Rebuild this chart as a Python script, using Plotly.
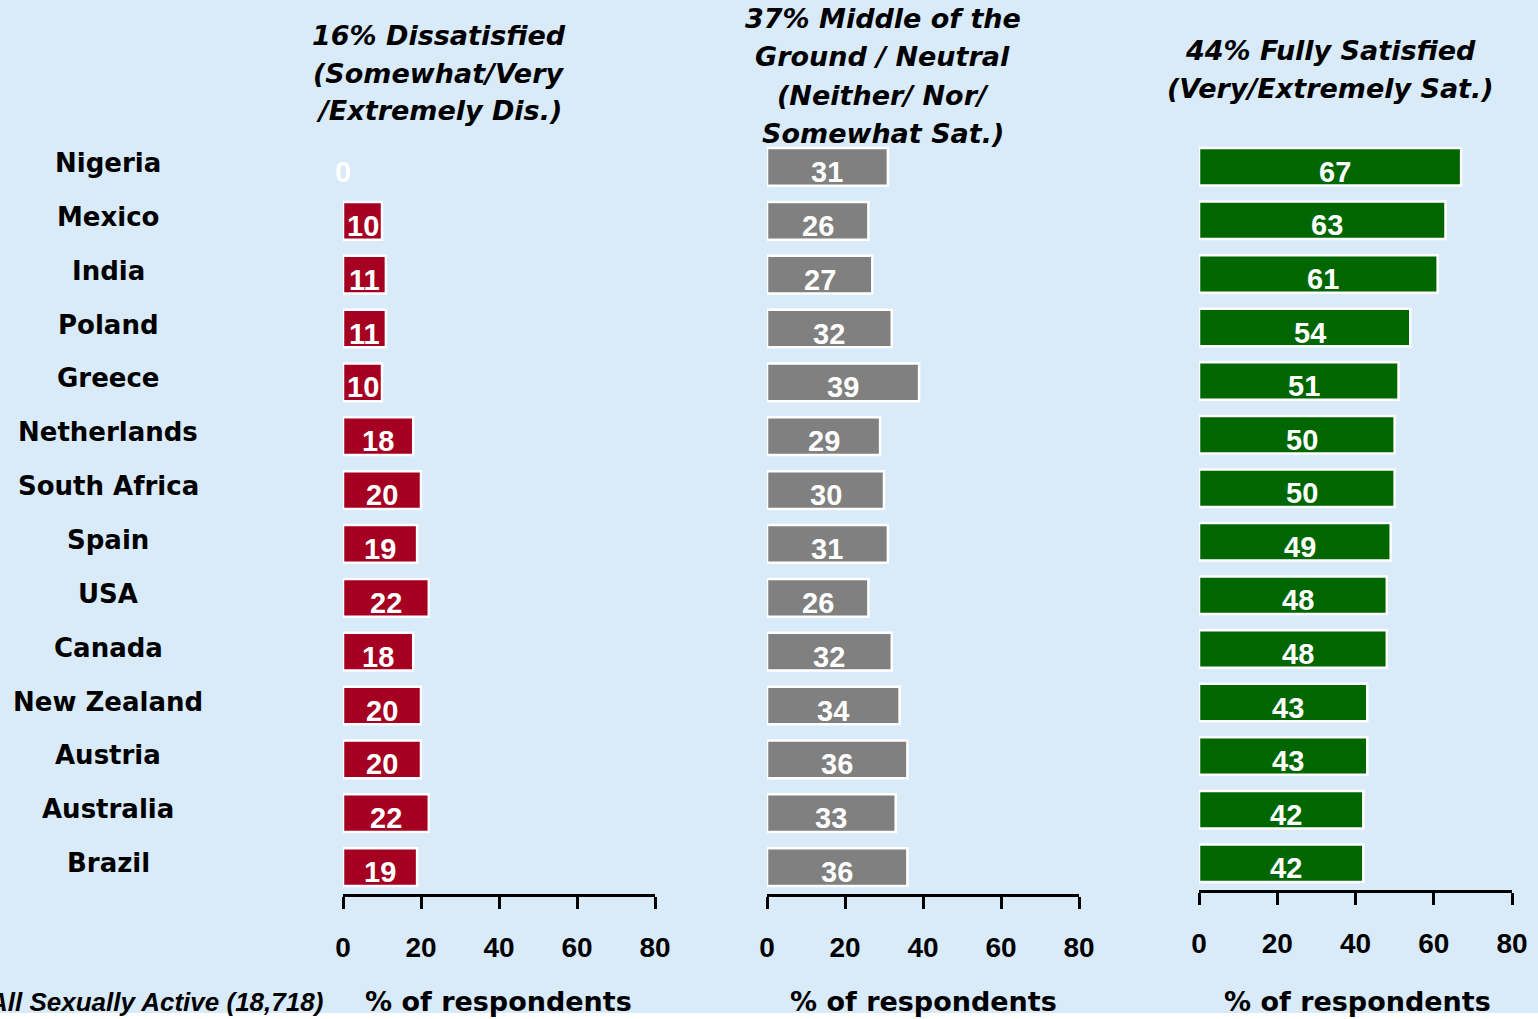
import plotly.graph_objects as go

countries = ["Nigeria", "Mexico", "India", "Poland", "Greece", "Netherlands", "South Africa",
             "Spain", "USA", "Canada", "New Zealand", "Austria", "Australia", "Brazil"]
dissatisfied = [0, 10, 11, 11, 10, 18, 20, 19, 22, 18, 20, 20, 22, 19]
neutral = [31, 26, 27, 32, 39, 29, 30, 31, 26, 32, 34, 36, 33, 36]
satisfied = [67, 63, 61, 54, 51, 50, 50, 49, 48, 48, 43, 43, 42, 42]

panel_titles = [
    ["16% Dissatisfied", "(Somewhat/Very", "/Extremely Dis.)"],
    ["37% Middle of the", "Ground / Neutral", "(Neither/ Nor/", "Somewhat Sat.)"],
    ["44% Fully Satisfied", "(Very/Extremely Sat.)"],
]
colors = ["#a50021", "#808080", "#006600"]
tick_vals = [0, 20, 40, 60, 80]
axis_title = "% of respondents"
base_note = "All Sexually Active (18,718)"

W, H = 1538, 1019
BG = "#d9eaf8"
NUMFONT = "Liberation Sans"
TXTFONT = "DejaVu Sans"

def px(x):
    return x / W

def py(y):
    return 1 - y / H

xdoms = [(343, 655), (767, 1079), (1199, 1512)]
ydoms = [(140, 894), (140, 894), (140, 890)]
label_xshift = [0, 0, 5]
series = [dissatisfied, neutral, satisfied]

fig = go.Figure()
annotations = []
for i, (vals, col) in enumerate(zip(series, colors)):
    xa = "x" if i == 0 else f"x{i+1}"
    ya = "y" if i == 0 else f"y{i+1}"
    fig.add_trace(go.Bar(
        x=vals, y=countries, orientation="h", xaxis=xa, yaxis=ya,
        marker=dict(color=col, line=dict(color="white", width=[0 if v == 0 else 2.5 for v in vals])),
        width=0.7, showlegend=False, hoverinfo="x+y",
    ))
    for c, v in zip(countries, vals):
        annotations.append(dict(
            x=v / 2, y=c, xref=xa, yref=ya, text=f"<b>{v}</b>", showarrow=False,
            font=dict(family=NUMFONT, size=29, color="white"), yshift=-5,
            xshift=label_xshift[i], xanchor="center", yanchor="middle",
        ))
    lay_x = "xaxis" if i == 0 else f"xaxis{i+1}"
    lay_y = "yaxis" if i == 0 else f"yaxis{i+1}"
    x0, x1 = xdoms[i]
    y0, y1 = ydoms[i]
    fig.update_layout({
        lay_x: dict(domain=[px(x0), px(x1)], range=[0, 80], anchor=ya,
                    tickvals=tick_vals, showline=True, linecolor="black", linewidth=2.5,
                    ticks="outside", ticklen=12, tickwidth=2.5, tickcolor="black",
                    showgrid=False, zeroline=False, ticklabelstandoff=15,
                    automargin=False,
                    tickfont=dict(family=NUMFONT, size=28, color="black", weight="bold")),
        lay_y: dict(domain=[py(y1), py(y0)], anchor=xa, autorange="reversed",
                    showticklabels=False, showgrid=False, zeroline=False, showline=False,
                    automargin=False,
                    categoryorder="array", categoryarray=countries),
    })

# country labels
for c in countries:
    annotations.append(dict(
        x=px(108), y=c, xref="paper", yref="y", text=c, showarrow=False,
        font=dict(family=TXTFONT, size=26, color="black", weight="bold"),
        xanchor="center", yanchor="middle", yshift=4,
    ))

# panel titles (one annotation per line)
title_x = [439, 883, 1330]
title_y = [[35, 73, 111], [19, 56, 96, 133], [51, 88]]
for lines, tx, tys in zip(panel_titles, title_x, title_y):
    for line, ty in zip(lines, tys):
        annotations.append(dict(
            x=px(tx), y=py(ty), xref="paper", yref="paper", text=line, showarrow=False,
            font=dict(family=TXTFONT, size=27, color="black", weight="bold", style="italic"),
            xanchor="center", yanchor="middle",
        ))

# axis titles
for tx in [498, 923, 1357]:
    annotations.append(dict(
        x=px(tx), y=py(1001), xref="paper", yref="paper", text=axis_title, showarrow=False,
        font=dict(family=TXTFONT, size=27, color="black", weight="bold"),
        xanchor="center", yanchor="middle",
    ))
annotations.append(dict(
    x=px(325), y=py(1002), xref="paper", yref="paper", text=base_note, showarrow=False,
    font=dict(family=NUMFONT, size=26, color="black", weight="bold", style="italic"),
    xanchor="right", yanchor="middle",
))

fig.update_layout(
    width=W, height=H, margin=dict(l=0, r=0, t=0, b=0, autoexpand=False),
    paper_bgcolor="white", plot_bgcolor="rgba(0,0,0,0)",
    annotations=annotations, bargap=0.3,
    shapes=[dict(type="rect", xref="paper", yref="paper", x0=0, x1=1, y0=py(1013), y1=1,
                 fillcolor=BG, line=dict(width=0), layer="below")],
)

post = "document.body.style.margin='0';document.body.style.background='%s';" % BG
fig.write_html("out.html", config={"responsive": False}, post_script=post)
